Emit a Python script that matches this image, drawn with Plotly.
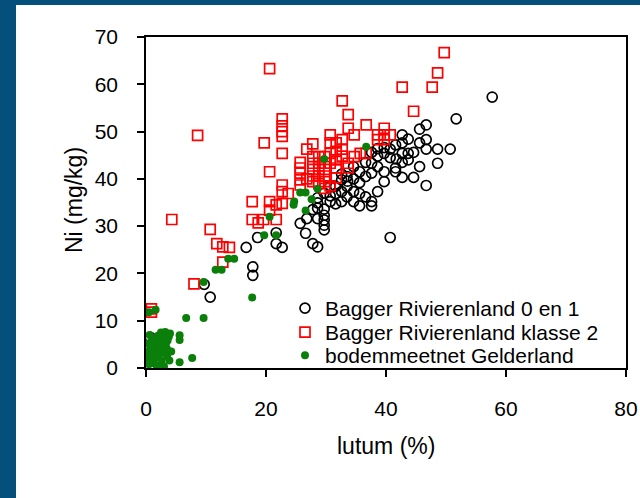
import plotly.graph_objects as go

# --- data ---
black_x = [57.7, 51.7, 50.7, 48.6, 48.6, 46.7, 45.6, 46.7, 46.7, 45.6, 45.6, 46.7, 44.6, 42.7, 43.7,
           42.7, 43.7, 42.7, 41.7, 41.6, 41.6, 42.7, 40.7, 40.7, 39.7, 39.7, 39.7, 38.6, 38.6, 37.6,
           37.6, 37.6, 37.6, 36.6, 35.6, 35.6, 35.6, 34.6, 34.6, 34.6, 33.5, 33.5, 32.6, 32.6, 32.6,
           31.6, 31.6, 30.7, 30.7, 29.7, 29.7, 29.7, 29.7, 28.6, 28.6, 28.6, 27.8, 26.8, 26.6, 25.7,
           22.7, 21.7, 21.7, 18.6, 16.7, 17.8, 17.8, 9.7, 10.7, 0.7,
           33.6, 34.6, 36.6, 36.6, 37.6, 38.6, 35.6, 29.7, 30.7, 31.6, 28.6, 27.8, 32.6, 33.5, 38.6,
           39.7, 40.7, 43.7, 44.6, 42.7, 41.6, 28.6, 29.7]
black_y = [57.3, 52.7, 46.3, 46.3, 43.3, 51.4, 50.5, 48.3, 46.3, 47.6, 42.6, 38.6, 40.3, 49.3, 48.4,
           47.6, 45.4, 45.4, 44.2, 42.3, 41.5, 40.3, 27.6, 46.3, 45.4, 41.5, 39.4, 37.3, 42.6, 43.3,
           41.2, 35.2, 34.3, 36.2, 39.2, 36.9, 34.3, 35.2, 37.3, 42.6, 40.5, 38.4, 39.8, 37.3, 35.2,
           38.4, 36.9, 35.2, 38.4, 32.3, 31.3, 30.2, 29.2, 31.6, 33.8, 25.6, 26.3, 31.6, 28.5, 30.6,
           25.5, 26.3, 28.6, 27.6, 25.5, 21.4, 19.6, 17.7, 15.0, 6.5,
           39.5, 40.0, 40.5, 43.5, 45.6, 46.4, 41.5, 37.0, 36.4, 34.7, 34.9, 33.5, 41.0, 36.2, 44.8,
           46.6, 44.5, 44.0, 45.6, 43.5, 47.2, 36.0, 33.6]

red_x = [49.7, 48.6, 47.7, 42.7, 44.6, 20.6, 32.7, 33.7, 22.7, 22.7, 22.7, 22.7, 8.6, 19.7, 22.7,
         20.6, 4.3, 10.7, 11.8, 12.8, 13.9, 12.8, 8.0, 0.9, 0.9, 17.7, 17.7, 18.7, 19.6, 20.6,
         20.6, 21.7, 21.7, 22.7, 22.7, 22.7, 23.7, 25.7, 25.7, 25.7, 25.7, 25.7, 26.8, 27.8, 27.8,
         27.8, 27.8, 27.8, 27.8, 28.8, 28.8, 28.8, 28.8, 28.8, 29.8, 29.8, 29.8, 29.8, 29.8, 30.7,
         30.7, 30.7, 30.7, 31.7, 31.7, 31.7, 31.7, 32.7, 32.7, 32.7, 33.7, 33.7, 33.7, 34.7, 34.7,
         35.7, 36.7, 36.7, 38.6, 38.6, 39.7, 39.7, 39.7, 40.7, 26.8, 30.7, 31.7, 29.8]
red_y = [66.7, 62.4, 59.4, 59.4, 54.3, 63.3, 56.5, 53.6, 52.7, 51.2, 50.0, 49.0, 49.2, 47.6, 45.4,
         41.5, 31.4, 29.3, 26.3, 25.6, 25.5, 22.4, 17.8, 12.5, 11.8, 35.2, 31.4, 30.7, 31.4, 35.2,
         33.4, 34.5, 31.4, 38.7, 37.3, 34.8, 36.9, 43.5, 42.3, 41.2, 39.8, 38.7, 46.3, 47.4, 44.7,
         43.3, 42.0, 40.6, 39.4, 44.7, 43.3, 42.0, 40.6, 39.0, 44.7, 43.3, 42.0, 40.6, 39.4, 49.3,
         47.6, 45.4, 43.3, 47.6, 45.8, 44.0, 42.3, 48.3, 46.3, 44.8, 50.7, 43.3, 42.3, 49.3, 44.7,
         45.4, 51.4, 45.4, 49.3, 48.3, 50.7, 49.3, 48.3, 49.3, 40.0, 38.5, 40.2, 38.0]

green_x = [36.7, 29.7, 28.6, 27.6, 26.6, 25.7, 24.7, 24.6, 26.6, 20.6, 19.7, 21.7, 13.7, 14.7, 11.6,
           12.6, 9.6, 17.7, 6.7, 9.6, 0.5, 1.6, 5.6, 5.6, 5.6, 7.7,
           0.3, 0.3, 0.3, 0.5, 0.8, 1.0, 1.2, 1.3, 1.5, 1.6, 1.8, 2.0, 2.1, 2.3, 2.5, 2.6, 2.8, 3.0,
           3.0, 3.2, 3.3, 3.5, 3.5, 3.8, 3.9, 4.0, 4.2, 2.2, 1.0, 0.6, 2.7, 3.6]
green_y = [46.8, 44.2, 37.9, 35.7, 37.1, 37.1, 35.2, 34.5, 33.3, 32.0, 28.1, 28.1, 23.1, 23.1, 20.8,
           20.8, 18.2, 14.9, 10.6, 10.6, 11.8, 12.3, 6.9, 5.9, 1.2, 2.1,
           5.2, 3.5, 2.0, 0.8, 4.2, 6.2, 2.8, 1.0, 5.0, 3.6, 0.5, 6.8, 2.2, 4.5, 7.5, 1.5, 3.2, 6.0,
           0.3, 7.6, 5.0, 2.5, 4.0, 6.6, 1.6, 7.3, 3.5, 5.8, 1.8, 7.0, 6.3, 5.8]

series_names = ["Bagger Rivierenland 0 en 1", "Bagger Rivierenland klasse 2", "bodemmeetnet Gelderland"]
x_ticks = [0, 20, 40, 60, 80]
y_ticks = [0, 10, 20, 30, 40, 50, 60, 70]
x_title = "lutum (%)"
y_title = "Ni (mg/kg)"

FONT = "Liberation Sans, Arial, sans-serif"
BLUE = "#054f7d"

fig = go.Figure()
fig.add_trace(go.Scatter(x=black_x, y=black_y, mode="markers", name=series_names[0], legend="legend",
                         marker=dict(symbol="circle-open", size=10, color="black", line=dict(width=1.7))))
fig.add_trace(go.Scatter(x=red_x, y=red_y, mode="markers", name=series_names[1], legend="legend2",
                         marker=dict(symbol="square-open", size=10, color="#ff0000", line=dict(width=1.7))))
fig.add_trace(go.Scatter(x=green_x, y=green_y, mode="markers", name=series_names[2], legend="legend3",
                         marker=dict(symbol="circle", size=8, color="#0a7f0a")))

# white panel over a blue page background (blue strips on left and top)
W, H = 640, 498
L, R, T, B = 146, 14, 37, 130
pw, ph = W - L - R, H - T - B
def px2x(p):
    return (p - L) / pw
def py2y(p):
    return (H - B - p) / ph

fig.add_shape(type="rect", xref="paper", yref="paper", layer="below",
              x0=px2x(16), x1=px2x(W + 2), y0=py2y(H + 2), y1=py2y(5),
              fillcolor="white", line=dict(width=0))

axis_common = dict(showgrid=False, zeroline=False, showline=True, linecolor="black", linewidth=1.6,
                   mirror=True, ticks="outside", ticklen=7, tickwidth=1.6, tickcolor="black",
                   automargin=False,
                   tickfont=dict(family=FONT, size=21, color="black"))

fig.update_xaxes(range=[0, 80], tickvals=x_ticks, ticktext=[str(v) for v in x_ticks],
                 ticklabelstandoff=14, **axis_common)
fig.update_yaxes(range=[0, 70], tickvals=y_ticks, ticktext=[str(v) for v in y_ticks],
                 ticklabelstandoff=15, **axis_common)

fig.add_annotation(text=x_title, xref="paper", yref="paper", x=0.5, y=py2y(446),
                   xanchor="center", yanchor="middle", showarrow=False,
                   font=dict(family=FONT, size=23, color="black"))
fig.add_annotation(text=y_title, xref="paper", yref="paper", x=px2x(74), y=py2y(200),
                   xanchor="center", yanchor="middle", textangle=-90, showarrow=False,
                   font=dict(family=FONT, size=23, color="black"))

legend_common = dict(x=px2x(285), xanchor="left", yanchor="top",
                     bgcolor="rgba(0,0,0,0)", borderwidth=0,
                     font=dict(family=FONT, size=21, color="black"))
fig.update_layout(
    width=W, height=H, margin=dict(l=L, r=R, t=T, b=B, autoexpand=False),
    paper_bgcolor=BLUE, plot_bgcolor="white",
    showlegend=True,
    legend=dict(y=py2y(288), **legend_common),
    legend2=dict(y=py2y(312), **legend_common),
    legend3=dict(y=py2y(335), **legend_common),
)

fig.write_html("out.html")
